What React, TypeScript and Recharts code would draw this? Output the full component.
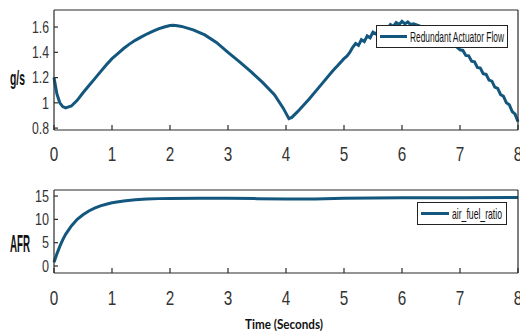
import { LineChart, Line, XAxis, YAxis, Legend } from 'recharts'

const timeTicks = [0, 1, 2, 3, 4, 5, 6, 7, 8]
const flowTicks = [0.8, 1, 1.2, 1.4, 1.6]
const afrTicks = [0, 5, 10, 15]

const flowTime = [
  0, 0.05, 0.1, 0.15, 0.2, 0.3, 0.4, 0.5, 0.6, 0.7, 0.8, 0.9, 1.0, 1.1, 1.2, 1.3, 1.4, 1.5, 1.6, 1.7, 1.8, 1.9,
  2.0, 2.05, 2.1, 2.2, 2.4, 2.6, 2.8, 3.0, 3.2, 3.4, 3.6, 3.8, 3.95, 4.05, 4.1, 4.2, 4.4, 4.6, 4.8, 4.9,
  5.0, 5.05, 5.1, 5.15, 5.2, 5.25, 5.3, 5.35, 5.4, 5.45, 5.5, 5.55, 5.6, 5.65, 5.7, 5.75, 5.8, 5.85, 5.9, 5.95,
  6.0, 6.05, 6.1, 6.15, 6.2, 6.3, 6.4, 6.5, 6.6, 6.7, 6.8, 6.9,
  7.0, 7.05, 7.1, 7.15, 7.2, 7.25, 7.3, 7.35, 7.4, 7.45, 7.5, 7.55, 7.6, 7.65, 7.7, 7.75, 7.8, 7.85, 7.9, 7.95, 8.0,
]
const flowValues = [
  1.2, 1.07, 1.0, 0.97, 0.96, 0.975, 1.02, 1.08, 1.135, 1.19, 1.245, 1.3, 1.35, 1.39, 1.43, 1.465, 1.495, 1.52, 1.545, 1.565, 1.585, 1.6,
  1.612, 1.615, 1.612, 1.605, 1.578, 1.538, 1.478, 1.4, 1.325, 1.245, 1.16, 1.065, 0.96, 0.875, 0.885, 0.93, 1.03, 1.14, 1.25, 1.3,
  1.35, 1.37, 1.4, 1.44, 1.47, 1.455, 1.5, 1.485, 1.53, 1.515, 1.56, 1.545, 1.58, 1.57, 1.6, 1.59, 1.62, 1.605, 1.635, 1.62,
  1.645, 1.625, 1.64, 1.62, 1.625, 1.61, 1.59, 1.57, 1.545, 1.52, 1.49, 1.46,
  1.42, 1.415, 1.375, 1.372, 1.33, 1.325, 1.28, 1.275, 1.23, 1.225, 1.18, 1.172, 1.125, 1.115, 1.065, 1.052, 1.0, 0.985, 0.93, 0.91, 0.85,
]

const afrTime = [0, 0.05, 0.1, 0.15, 0.2, 0.3, 0.4, 0.5, 0.6, 0.7, 0.8, 0.9, 1.0, 1.2, 1.4, 1.6, 1.8, 2.0, 2.5, 3.0, 3.5, 4.0, 4.5, 5.0, 5.5, 6.0, 7.0, 8.0]
const afrValues = [0.8, 2.6, 4.2, 5.6, 6.8, 8.6, 10.0, 11.0, 11.8, 12.4, 12.9, 13.25, 13.55, 13.95, 14.2, 14.35, 14.45, 14.5, 14.55, 14.55, 14.45, 14.35, 14.35, 14.55, 14.6, 14.62, 14.65, 14.7]

const flowData = flowTime.map((t, i) => ({ t, flow: flowValues[i] }))
const afrData = afrTime.map((t, i) => ({ t, afr: afrValues[i] }))

const LINE = '#13577f'
const FRAME = '#2a2a2a'
const NARROW = "'Liberation Sans Narrow', 'Liberation Sans', Arial, sans-serif"

// squeezed tick text, the source figure uses a very condensed face
function NarrowTick({ x, y, payload, textAnchor, size, digitW, dy }: any) {
  const s = String(payload.value)
  let len = 0
  for (const c of s) len += c === '.' ? 3 : digitW
  return (
    <text x={x} y={y} dy={dy} textAnchor={textAnchor} fontSize={size} fill="#333" fontFamily={NARROW}
      textLength={len} lengthAdjust="spacingAndGlyphs">
      {s}
    </text>
  )
}

const xTick = (p: any) => <NarrowTick {...p} size={21} digitW={8.5} dy="0.71em" />
const yTick = (p: any) => <NarrowTick {...p} size={16} digitW={7} dy="0.355em" />

function AxisTitle({ text, px, py, size, len, font = NARROW }: any) {
  return (
    <text x={px} y={py} fontSize={size} fontWeight="bold" fill="#111" fontFamily={font}
      textLength={len} lengthAdjust="spacingAndGlyphs">
      {text}
    </text>
  )
}

function LegendBox({ payload, width, textX, textLen }: any) {
  const item = payload && payload[0]
  if (!item) return null
  return (
    <svg width={width} height={23} style={{ display: 'block' }}>
      <rect x={0.5} y={0.5} width={width - 1} height={22} fill="#fff" stroke="#222" />
      <line x1={4} x2={textX - 3} y1={11.5} y2={11.5} stroke={item.color} strokeWidth={3} />
      <text x={textX} y={16.5} fontSize={15} fill="#111" fontFamily={NARROW}
        textLength={textLen} lengthAdjust="spacingAndGlyphs">
        {item.value}
      </text>
    </svg>
  )
}

export default function App() {
  return (
    <div style={{ position: 'absolute', left: 0, top: 0, width: 520, height: 331, background: '#fff' }}>
      <div style={{ position: 'absolute', left: 0, top: 0 }}>
        <LineChart width={520} height={170} data={flowData} margin={{ top: 9, right: 1, bottom: 0, left: 0 }}>
          <XAxis xAxisId="b" dataKey="t" type="number" domain={[0, 8]} ticks={timeTicks} interval={0}
            height={40} tickSize={-5} tickMargin={21} tick={xTick} stroke={FRAME} strokeWidth={1.2} />
          <XAxis xAxisId="t" orientation="top" dataKey="t" type="number" domain={[0, 8]} ticks={timeTicks}
            height={1} tickSize={-5} tick={false} stroke={FRAME} strokeWidth={1.2} />
          <YAxis yAxisId="l" type="number" domain={[0.785, 1.735]} ticks={flowTicks} interval={0} width={54}
            tickSize={-4} tickMargin={9} tick={yTick} stroke={FRAME} strokeWidth={1.2}
            label={<AxisTitle text="g/s" px={10} py={85} size={21} len={15} />} />
          <YAxis yAxisId="r" orientation="right" type="number" domain={[0.785, 1.735]} ticks={flowTicks}
            width={1} tickSize={-4} tick={false} stroke={FRAME} strokeWidth={1.2} />
          <Line xAxisId="b" yAxisId="l" dataKey="flow" name="Redundant Actuator Flow" type="linear"
            stroke={LINE} strokeWidth={3} dot={false} isAnimationActive={false} />
          <Legend layout="vertical" verticalAlign="middle" align="center"
            wrapperStyle={{ left: 376, top: 25, width: 132 }}
            content={(p: any) => <LegendBox payload={p.payload} width={132} textX={34} textLen={94} />} />
        </LineChart>
      </div>
      <div style={{ position: 'absolute', left: 0, top: 170 }}>
        <LineChart width={520} height={161} data={afrData} margin={{ top: 19, right: 1, bottom: 0, left: 0 }}>
          <XAxis xAxisId="b" dataKey="t" type="number" domain={[0, 8]} ticks={timeTicks} interval={0}
            height={58} tickSize={-5} tickMargin={22} tick={xTick} stroke={FRAME} strokeWidth={1.2}
            label={<AxisTitle text="Time (Seconds)" px={245} py={159} size={14} len={78} font="Lato, 'Open Sans', sans-serif" />} />
          <XAxis xAxisId="t" orientation="top" dataKey="t" type="number" domain={[0, 8]} ticks={timeTicks}
            height={1} tickSize={-5} tick={false} stroke={FRAME} strokeWidth={1.2} />
          <YAxis yAxisId="l" type="number" domain={[-1.5, 16.3]} ticks={afrTicks} interval={0} width={54}
            tickSize={-4} tickMargin={9} tick={yTick} stroke={FRAME} strokeWidth={1.2}
            label={<AxisTitle text="AFR" px={10} py={82} size={24} len={20} />} />
          <YAxis yAxisId="r" orientation="right" type="number" domain={[-1.5, 16.3]} ticks={afrTicks}
            width={1} tickSize={-4} tick={false} stroke={FRAME} strokeWidth={1.2} />
          <Line xAxisId="b" yAxisId="l" dataKey="afr" name="air_fuel_ratio" type="linear"
            stroke={LINE} strokeWidth={3} dot={false} isAnimationActive={false} />
          <Legend layout="vertical" verticalAlign="middle" align="center"
            wrapperStyle={{ left: 417, top: 32, width: 90 }}
            content={(p: any) => <LegendBox payload={p.payload} width={90} textX={35} textLen={50} />} />
        </LineChart>
      </div>
    </div>
  )
}
